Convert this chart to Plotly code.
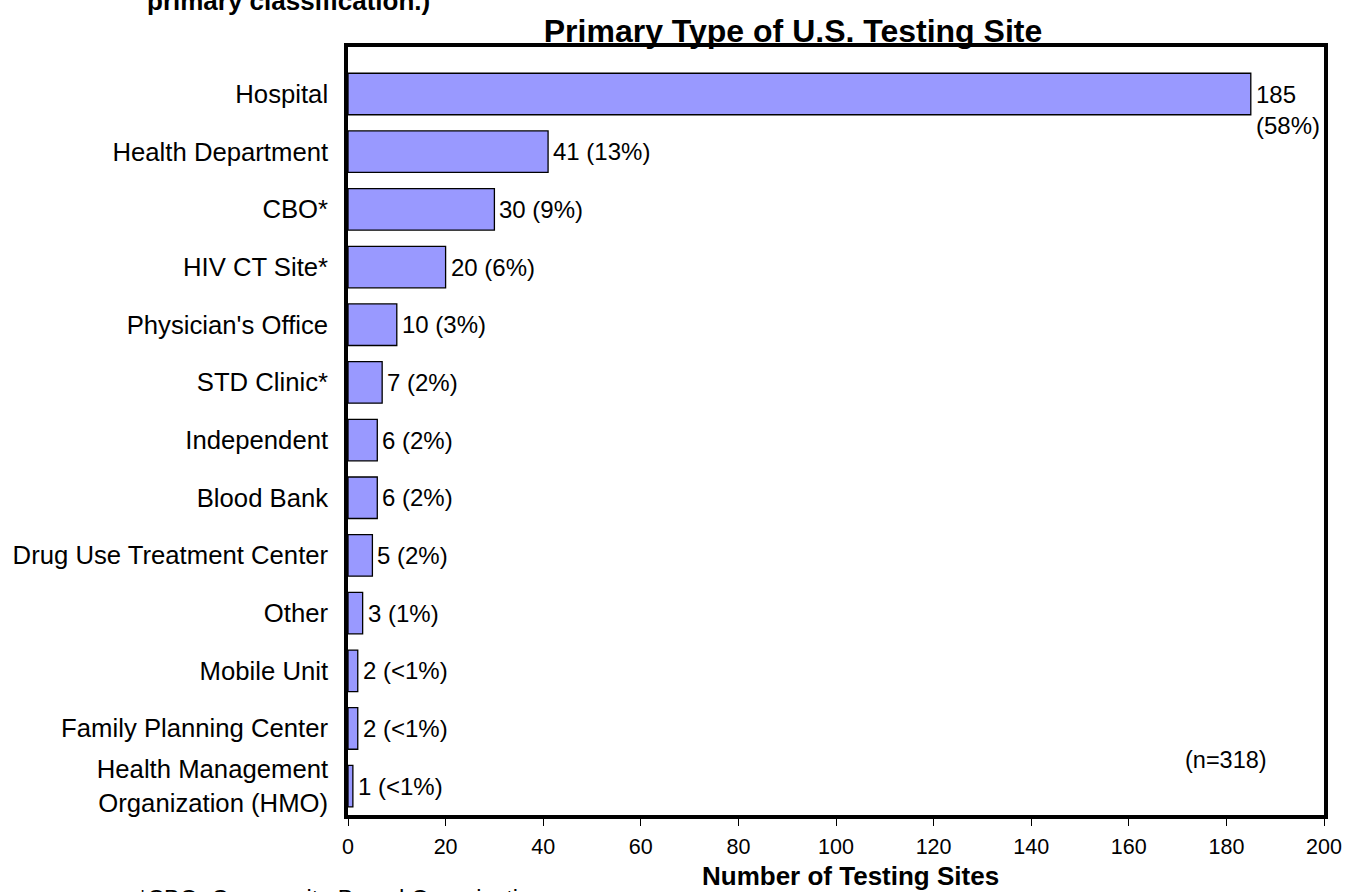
import plotly.graph_objects as go

categories = ["Hospital", "Health Department", "CBO*", "HIV CT Site*", "Physician's Office",
              "STD Clinic*", "Independent", "Blood Bank", "Drug Use Treatment Center", "Other",
              "Mobile Unit", "Family Planning Center", "Health Management<br>Organization (HMO)"]
counts = [185, 41, 30, 20, 10, 7, 6, 6, 5, 3, 2, 2, 1]
labels = ["185<br>(58%)", "41 (13%)", "30 (9%)", "20 (6%)", "10 (3%)", "7 (2%)", "6 (2%)",
          "6 (2%)", "5 (2%)", "3 (1%)", "2 (<1%)", "2 (<1%)", "1 (<1%)"]
x_ticks = [0, 20, 40, 60, 80, 100, 120, 140, 160, 180, 200]

FONT = "Arial, Liberation Sans, sans-serif"

fig = go.Figure(go.Bar(
    x=counts, y=categories, orientation="h",
    marker=dict(color="#9999FF", line=dict(color="black", width=1.3)),
    width=0.72,
))

annotations = []
for c, v, t in zip(categories, counts, labels):
    multi = "<br>" in t
    annotations.append(dict(
        x=v, y=c, xref="x", yref="y", text=t, showarrow=False,
        xanchor="left", yanchor="middle", xshift=3, yshift=-16 if multi else 0,
        align="left", font=dict(size=24, color="black", family=FONT)))

annotations += [
    dict(x=(1226 - 348) / 976, y=(815 - 760) / 768, xref="paper", yref="paper", text="(n=318)",
         showarrow=False, font=dict(size=23.5, color="black", family=FONT),
         xanchor="center", yanchor="middle"),
    dict(x=(145 - 348) / 976, y=1 + (47 - 1) / 768, xref="paper", yref="paper",
         text="<b>primary classification.)</b>", showarrow=False,
         xanchor="left", yanchor="middle", font=dict(size=26, color="black", family=FONT)),
    dict(x=(136 - 348) / 976, y=(815 - 884) / 768, xref="paper", yref="paper",
         text="*CBO: Community-Based Organization",
         showarrow=False, xanchor="left", yanchor="top",
         font=dict(size=23.5, color="black", family=FONT)),
    dict(x=(850 - 348) / 976, y=(815 - 876) / 768, xref="paper", yref="paper",
         text="<b>Number of Testing Sites</b>", showarrow=False,
         xanchor="center", yanchor="middle", font=dict(size=26, color="black", family=FONT)),
]

fig.update_layout(
    width=1353, height=892,
    margin=dict(l=348, r=29, t=47, b=77),
    paper_bgcolor="white", plot_bgcolor="white",
    font=dict(family=FONT, size=25, color="black"),
    title=dict(text="<b>Primary Type of U.S. Testing Site</b>", x=793 / 1353, xref="container",
               xanchor="center", y=1 - 31 / 892, yref="container", yanchor="middle",
               font=dict(size=32, family=FONT)),
    showlegend=False,
    annotations=annotations,
)
fig.update_xaxes(
    range=[0, 200], tickvals=x_ticks, ticks="outside", ticklen=7, tickwidth=1.3,
    tickcolor="black", showgrid=False, zeroline=False,
    showline=True, linewidth=3.5, linecolor="black", mirror=True,
    tickfont=dict(size=21.5), ticklabelstandoff=2,
)
fig.update_yaxes(
    autorange="reversed", showgrid=False, zeroline=False, ticks="",
    showline=True, linewidth=3.5, linecolor="black", mirror=True,
    ticklabelstandoff=11, tickfont=dict(size=25.7),
)

fig.write_html("out.html", config={"displayModeBar": False},
               post_script="document.body.style.margin='0';")
